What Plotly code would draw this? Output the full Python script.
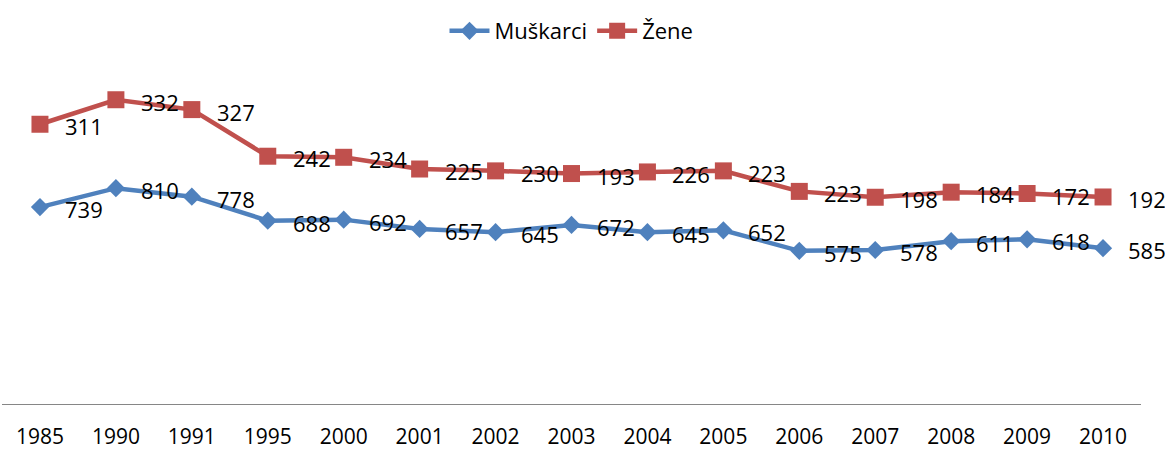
import plotly.graph_objects as go
import numpy as np

years = ["1985", "1990", "1991", "1995", "2000", "2001", "2002", "2003", "2004",
         "2005", "2006", "2007", "2008", "2009", "2010"]
muskarci = [739, 810, 778, 688, 692, 657, 645, 672, 645, 652, 575, 578, 611, 618, 585]
zene = [311, 332, 327, 242, 234, 225, 230, 193, 226, 223, 223, 198, 184, 172, 192]

BLUE = "#4F81BD"
RED = "#C0504D"
FONT = "Open Sans"
FS = 22

fig = go.Figure()
fig.add_trace(go.Scatter(
    x=years, y=muskarci, name="Muškarci", mode="lines+markers",
    stackgroup="s", fill="none",
    line=dict(color=BLUE, width=4.5),
    marker=dict(symbol="diamond", size=14, color=BLUE),
))
fig.add_trace(go.Scatter(
    x=years, y=zene, name="Žene", mode="lines+markers",
    stackgroup="s", fill="none",
    line=dict(color=RED, width=4.5),
    marker=dict(symbol="square", size=17, color=RED),
))

bases = (np.zeros(len(years)), np.array(muskarci, dtype=float))
for series, base in zip((muskarci, zene), bases):
    for i, (v, b) in enumerate(zip(series, base)):
        fig.add_annotation(
            x=i, y=float(v + b), xref="x", yref="y", text=str(v), showarrow=False,
            xanchor="left", yanchor="middle", xshift=23, yshift=-2,
            font=dict(family=FONT, size=FS, color="black"),
        )

fig.update_layout(
    width=1165, height=451,
    margin=dict(l=2, r=24, t=31, b=47, autoexpand=False),
    plot_bgcolor="white", paper_bgcolor="white",
    font=dict(family=FONT, size=FS, color="black"),
    showlegend=True,
    legend=dict(orientation="h", x=0.5, xanchor="center",
                y=1.0, yanchor="middle",
                font=dict(family=FONT, size=FS, color="black"),
                itemwidth=40, bgcolor="rgba(0,0,0,0)"),
    xaxis=dict(type="category", range=[-0.5, 14.5], showgrid=False,
               showline=True, linecolor="#868686", linewidth=1,
               ticks="", ticklabelstandoff=14, zeroline=False, automargin=False,
               tickfont=dict(family=FONT, size=21, color="black")),
    yaxis=dict(range=[0, 1400], showticklabels=False, showline=False, ticks="",
               showgrid=False, zeroline=False, automargin=False),
)

fig.write_html("out.html",
               config={"displayModeBar": False},
               post_script="document.body.style.margin='0';"
                           "document.body.style.overflow='hidden';")
